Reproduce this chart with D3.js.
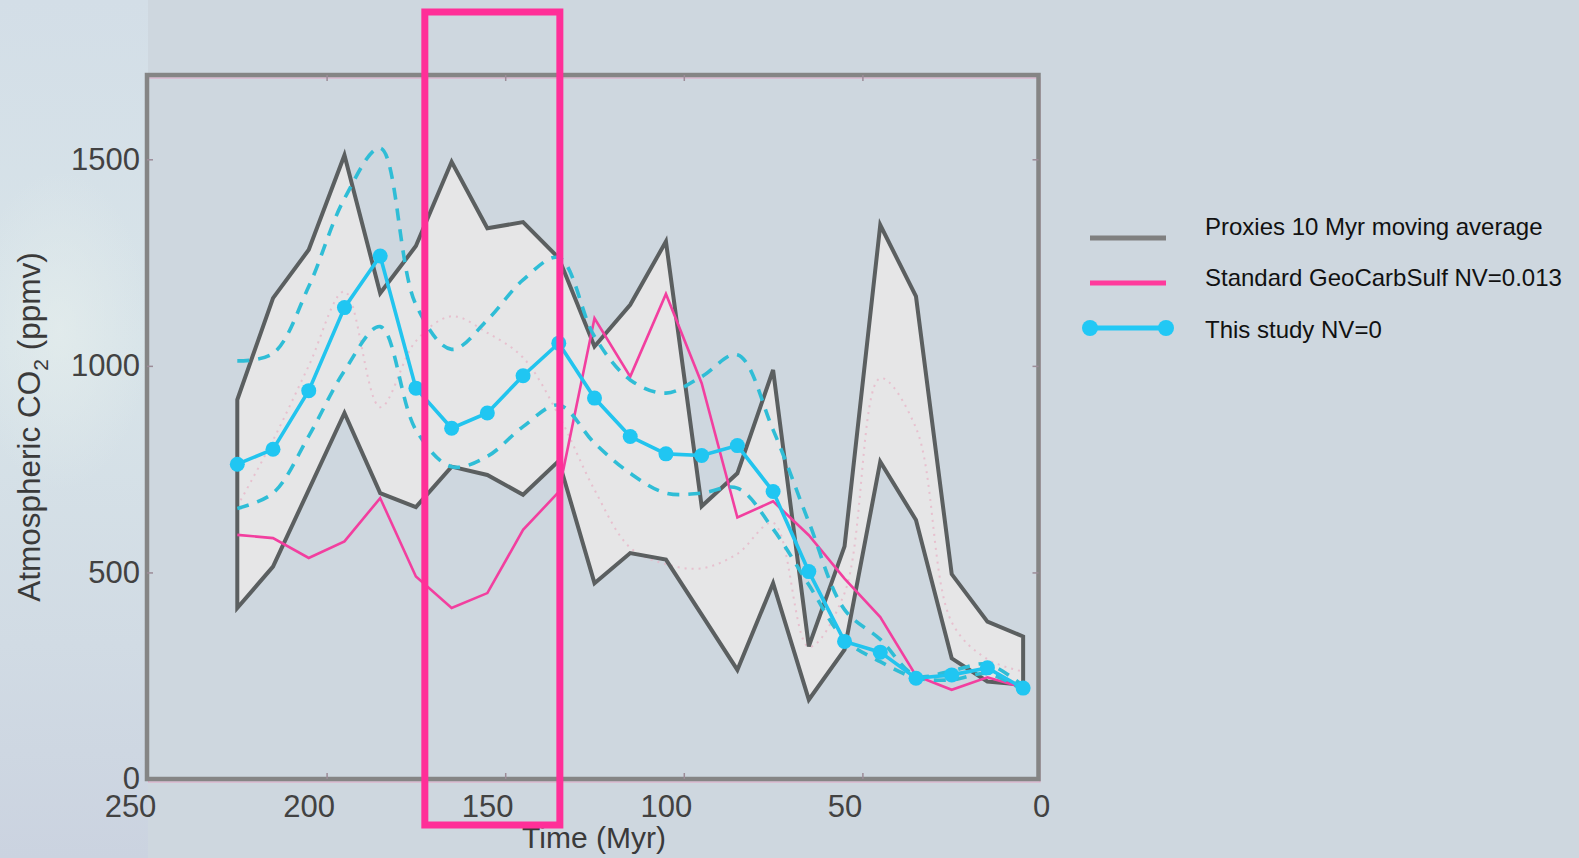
<!DOCTYPE html>
<html><head><meta charset="utf-8">
<script src="https://cdn.jsdelivr.net/npm/d3@7"></script>
<style>
html,body{margin:0;padding:0;background:#ced7df;overflow:hidden}
svg{display:block;font-family:"Liberation Sans",Arial,Helvetica,sans-serif}
</style></head><body>
<svg id="chart" width="1579" height="858"></svg>
<script>
// ---- data ----
const times        = [225,215,205,195,185,175,165,155,145,135,125,115,105,95,85,75,65,55,45,35,25,15,5];
const proxyUpper   = [918,1164,1281,1510,1176,1290,1494,1333,1348,1261,1047,1148,1301,660,740,990,321,563,1341,1168,496,381,345];
const proxyLower   = [414,514,700,886,692,658,756,736,688,770,474,547,531,398,264,474,192,313,768,627,292,236,228];
const geocarb      = [591,583,535,575,680,490,414,450,603,695,1115,974,1174,958,633,672,590,485,392,250,216,246,221];
const thisStudy    = [762,798,940,1141,1266,946,849,886,976,1055,922,829,787,783,807,696,502,333,307,244,252,269,220];
const studyUpper   = [1012,1030,1192,1405,1527,1148,1040,1111,1208,1262,1071,966,934,974,1027,845,622,410,338,250,262,278,225];
const studyLower   = [655,692,830,988,1095,845,756,781,853,905,813,740,692,692,704,605,470,338,284,245,240,255,215];
const proxyDotted  = [660,820,1000,1180,900,1060,1120,1080,1020,880,700,560,520,510,545,620,320,450,970,850,380,290,260];
const xTicks       = [250,200,150,100,50,0];
const yTicks       = [0,500,1000,1500];
const yMax         = 1704;
const highlightRange = [172.5,134.7];
const legendLabels = ["Proxies 10 Myr moving average","Standard GeoCarbSulf NV=0.013","This study NV=0"];

(function(){
const svg = d3.select("#chart");
const x = d3.scaleLinear().domain([250,0]).range([148,1041]);
const y = d3.scaleLinear().domain([0,1500]).range([779,159.3]);
const rows = times.map((t,i)=>({t,hi:proxyUpper[i],lo:proxyLower[i],g:geocarb[i],s:thisStudy[i],su:studyUpper[i],sl:studyLower[i],pd:proxyDotted[i]}));

const defs = svg.append("defs");
const lg = defs.append("linearGradient").attr("id","leftg").attr("x1",0).attr("y1",0).attr("x2",0).attr("y2",1);
lg.append("stop").attr("offset","0%").attr("stop-color","#d3dee7");
lg.append("stop").attr("offset","40%").attr("stop-color","#d8e4e9");
lg.append("stop").attr("offset","75%").attr("stop-color","#d1dbe4");
lg.append("stop").attr("offset","100%").attr("stop-color","#cbd3e0");
const rg = defs.append("radialGradient").attr("id","blob");
rg.append("stop").attr("offset","0%").attr("stop-color","#e3ecec").attr("stop-opacity",0.8);
rg.append("stop").attr("offset","100%").attr("stop-color","#e3ecec").attr("stop-opacity",0);

svg.append("rect").attr("width",1579).attr("height",858).attr("fill","#ced7df");
svg.append("rect").attr("x",0).attr("y",0).attr("width",148).attr("height",858).attr("fill","url(#leftg)");
svg.append("ellipse").attr("cx",60).attr("cy",330).attr("rx",90).attr("ry",160).attr("fill","url(#blob)");

const fL = x(250)-1, fR = x(0)-2.5, fT = y(yMax), fB = y(0);

// band fill
const area = d3.area().x(d=>x(d.t)).y0(d=>y(d.lo)).y1(d=>y(d.hi));
svg.append("path").datum(rows).attr("d",area).attr("fill","#e6e6e7");

// faint dotted line inside band
svg.append("path").datum(rows)
  .attr("d",d3.line().x(d=>x(d.t)).y(d=>y(d.pd)).curve(d3.curveCatmullRom))
  .attr("fill","none").attr("stroke","#e7b6c8").attr("stroke-width",2).attr("stroke-dasharray","2,5").attr("opacity",0.8);

// band outline
const outline = rows.map(d=>[x(d.t),y(d.hi)]).concat(rows.slice().reverse().map(d=>[x(d.t),y(d.lo)]));
svg.append("path").attr("d",d3.line().curve(d3.curveLinearClosed)(outline))
  .attr("fill","none").attr("stroke","#5b5f60").attr("stroke-width",4).attr("stroke-linejoin","miter");

// GeoCarbSulf
svg.append("path").datum(rows).attr("d",d3.line().x(d=>x(d.t)).y(d=>y(d.g)))
  .attr("fill","none").attr("stroke","#f23f9f").attr("stroke-width",2.6);

// dashed bounds
["su","sl"].forEach(k=>{
  svg.append("path").datum(rows).attr("d",d3.line().x(d=>x(d.t)).y(d=>y(d[k])).curve(d3.curveCatmullRom))
    .attr("fill","none").attr("stroke","#2fbdd6").attr("stroke-width",3.6).attr("stroke-dasharray","12,9");
});

// this study
svg.append("path").datum(rows).attr("d",d3.line().x(d=>x(d.t)).y(d=>y(d.s)))
  .attr("fill","none").attr("stroke","#22c4ee").attr("stroke-width",3.6);
svg.selectAll("circle.pt").data(rows).join("circle").attr("class","pt")
  .attr("cx",d=>x(d.t)).attr("cy",d=>y(d.s)).attr("r",7.5).attr("fill","#20c6f2");

// frame
svg.append("rect").attr("x",fL+1.5).attr("y",fT+3).attr("width",fR-fL).attr("height",fB-fT)
  .attr("fill","none").attr("stroke","#e4a6c6").attr("stroke-width",1);
svg.append("rect").attr("x",fL).attr("y",fT).attr("width",fR-fL).attr("height",fB-fT)
  .attr("fill","none").attr("stroke","#858585").attr("stroke-width",4.5);

// axes
const tickCol = "#9c8c98";
const gB = svg.append("g").attr("transform",`translate(0,${fB})`)
  .call(d3.axisBottom(x).tickValues(xTicks).tickSize(-6).tickPadding(16).tickFormat(d3.format("d")));
const gT = svg.append("g").attr("transform",`translate(0,${fT})`)
  .call(d3.axisTop(x).tickValues(xTicks.slice(1,-1)).tickSize(-6).tickFormat(""));
const gL = svg.append("g").attr("transform",`translate(${fL},0)`)
  .call(d3.axisLeft(y).tickValues(yTicks).tickSize(-6).tickPadding(6).tickFormat(d3.format("d")));
const gR = svg.append("g").attr("transform",`translate(${fR},0)`)
  .call(d3.axisRight(y).tickValues(yTicks.slice(1)).tickSize(-6).tickFormat(""));
[gB,gT,gL,gR].forEach(g=>{
  g.attr("font-family",null).attr("font-size",null);
  g.select(".domain").remove();
  g.selectAll(".tick line").attr("stroke",tickCol).attr("stroke-width",1.5);
  g.selectAll("text").attr("fill","#424242").style("font-size","31px");
});
gB.selectAll(".tick").filter(d=>d===250||d===0).select("line").remove();
gL.selectAll(".tick").filter(d=>d===0).select("line").remove();
gB.selectAll("text").attr("dx",d=>d===0?0:-18);
gL.selectAll("text").attr("dx",-1);

// axis titles
svg.append("text").attr("x",594).attr("y",848).attr("text-anchor","middle")
  .attr("fill","#3a3a3a").style("font-size","30px").text("Time (Myr)");
const yt = svg.append("text").attr("transform","translate(40,427) rotate(-90)").attr("text-anchor","middle")
  .attr("fill","#3a3a3a").style("font-size","31.5px");
yt.append("tspan").text("Atmospheric CO");
yt.append("tspan").text("2").style("font-size","21px").attr("dy",8);
yt.append("tspan").text(" (ppmv)").attr("dy",-8);

// legend
const legCols = ["#808080","#ff3a9c","#22c8f5"];
const leg = svg.append("g");
legendLabels.forEach((lab,i)=>{
  const ly = 238 + i*45;
  leg.append("line").attr("x1",1090).attr("x2",1166).attr("y1",ly).attr("y2",ly)
    .attr("stroke",legCols[i]).attr("stroke-width",5);
  if(i===2){
    [1090,1166].forEach(cx=>leg.append("circle").attr("cx",cx).attr("cy",ly).attr("r",8).attr("fill",legCols[i]));
  }
  leg.append("text").attr("x",1205).attr("y",234.5+i*51.7).attr("fill","#111")
    .style("font-size","24px").text(lab);
});

// highlight annotation
svg.append("rect").attr("x",x(highlightRange[0])).attr("y",12)
  .attr("width",x(highlightRange[1])-x(highlightRange[0])).attr("height",813)
  .attr("fill","none").attr("stroke","#ff2f98").attr("stroke-width",7);
})();
</script>
</body></html>
